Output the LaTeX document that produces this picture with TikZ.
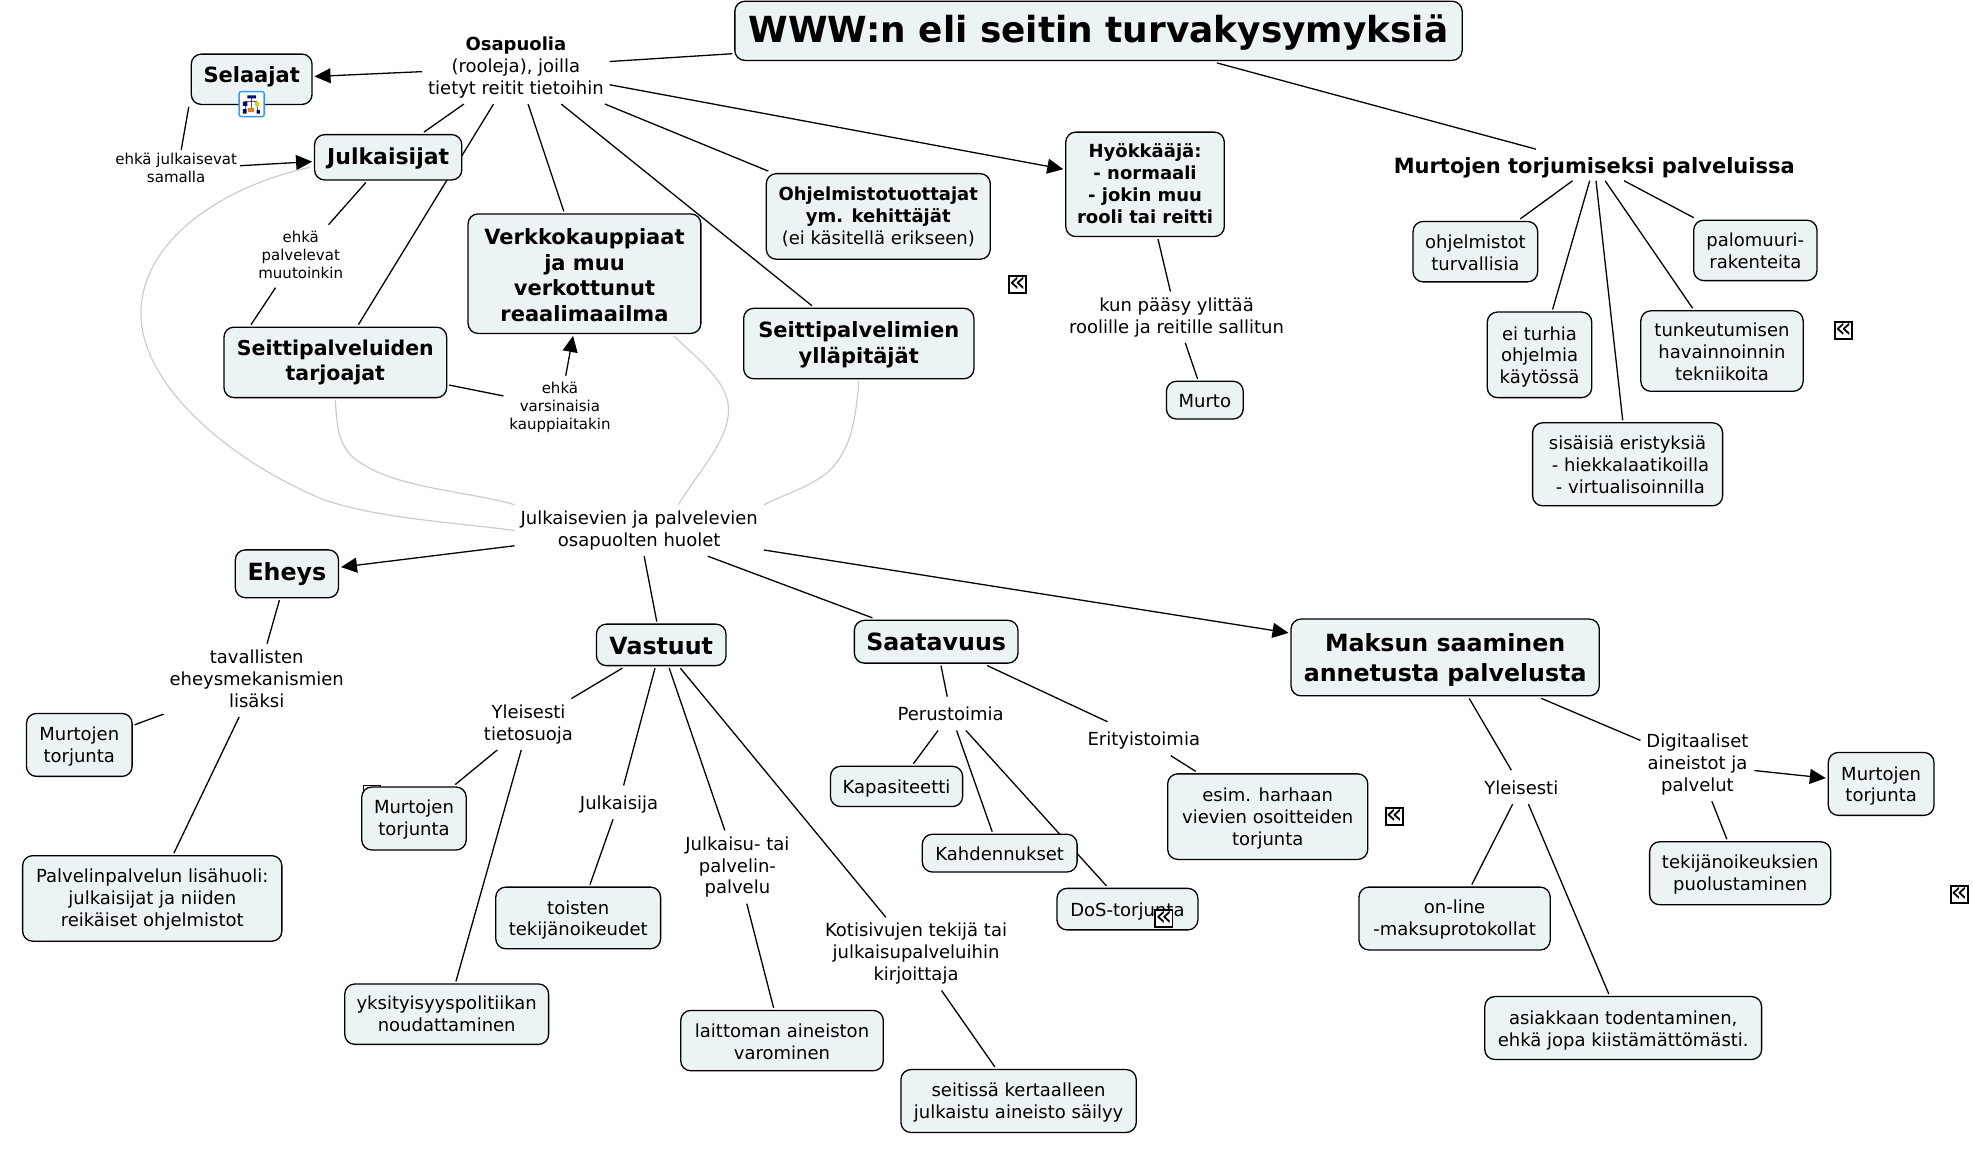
\documentclass[tikz,border=0pt]{standalone}
\usepackage{fontspec}
\setmainfont{DejaVu Sans}
\usetikzlibrary{arrows.meta, calc, backgrounds}
\definecolor{boxfill}{HTML}{ECF3F5}
\definecolor{curvegray}{HTML}{CCCCCC}
\newcommand{\fontstrut}{\rule[-.21em]{0pt}{1.215em}}
\newcommand{\topline}[1][1]{\rule{0pt}{#1em}}
\newcommand{\liftline}[1]{\rule[-#1pt]{0pt}{0pt}}
\tikzstyle{struts} = [execute at begin node=\fontstrut, execute at end node=\fontstrut]
\tikzstyle{block} = [rectangle, draw=black, fill=boxfill, line width=1.3pt, rounded corners=10pt, align=center, inner sep=0pt, outer sep=2.5pt, struts, font=\fontsize{18}{21.9}\selectfont]
\tikzstyle{head} = [font=\fontsize{21}{25.5}\selectfont\bfseries]
\tikzstyle{bighead} = [font=\fontsize{23.7}{30}\selectfont\bfseries]
\tikzstyle{note} = [align=center, inner sep=0pt, outer sep=6pt, yshift=-2pt, struts, font=\fontsize{18}{21.9}\selectfont]
\tikzstyle{smallnote} = [note, font=\fontsize{15}{18.2}\selectfont]
\tikzstyle{line} = [draw, line width=1.3pt]
\tikzstyle{arrow} = [line, -{Triangle[length=16pt,width=15pt]}]
\tikzstyle{curve} = [draw=curvegray, line width=1.2pt]
\tikzstyle{backicon} = [rectangle, draw=black, fill=white, line width=1.8pt, inner sep=0pt, minimum size=17pt, font=\fontsize{28}{28}\selectfont]
\tikzset{boxsize/.style 2 args={minimum width={#1*1.25829pt}, minimum height={#2*1.25829pt}}}
\begin{document}
\begin{tikzpicture}[x=1.25829pt, y=-1.25829pt]
	\useasboundingbox (0,0) rectangle (1568,918.7);

	% Top of the map
	\node(title) [block, boxsize={578}{47}, font=\fontsize{35.9}{44}\selectfont\bfseries] at (873,24.5) {WWW:n eli seitin turvakysymyksiä\liftline{12.5}};
	\node(osa) [note] at (410,52) {\textbf{Osapuolia}\\(rooleja), joilla\\tietyt reitit tietoihin};
	\node(sel) [block, head, boxsize={96}{40}] at (200,63) {Selaajat\liftline{14}};
	\node(ekaj) [smallnote, outer sep=3pt] at (140,133) {ehkä julkaisevat\\samalla};
	\node(julk) [block, head, boxsize={117}{36}, font=\fontsize{22}{25.5}\selectfont\bfseries] at (308.5,125) {Julkaisijat\liftline{7}};
	\node(ekap) [smallnote] at (239,202) {ehkä\\palvelevat\\muutoinkin};
	\node(tarj) [block, head, boxsize={177}{56}, font=\fontsize{20.5}{25.5}\selectfont\bfseries] at (266.5,288) {Seittipalveluiden\\tarjoajat};
	\node(verk) [block, head, boxsize={185}{95}] at (464.5,217.5) {\topline[1.12]Verkkokauppiaat\\ja muu\\verkottunut\\reaalimaailma};
	\node(ekav) [smallnote] at (445,322) {ehkä\\varsinaisia\\kauppiaitakin};
	\node(ohje) [block, boxsize={178}{68}] at (698,172) {\topline[.9]\textbf{Ohjelmistotuottajat}\\\textbf{ym. kehittäjät}\\(ei käsitellä erikseen)};
	\node(icon1) [backicon] at (808.5,226) {«};
	\node(yllp) [block, head, boxsize={183}{56}] at (682.5,273) {\topline[.9]Seittipalvelimien\\ylläpitäjät};
	\node(hyok) [block, boxsize={126}{83}, font=\fontsize{18}{21.9}\selectfont\bfseries] at (910,146.5) {\topline[.9]Hyökkääjä:\\- normaali\\- jokin muu\\rooli tai reitti};
	\node(kun) [note] at (935,250.5) {kun pääsy ylittää\\roolille ja reitille sallitun};
	\node(murto) [block, boxsize={61}{30}] at (957.5,318) {Murto};

	% Right group
	\node(torj) [note, head, outer sep=3pt] at (1267,129.5) {Murtojen torjumiseksi palveluissa};
	\node(ohjt) [block, boxsize={99}{48}] at (1172.5,200) {\topline[1.05]ohjelmistot\\turvallisia};
	\node(palo) [block, boxsize={98}{48}] at (1395,199) {\topline palomuuri-\\rakenteita};
	\node(turh) [block, boxsize={83}{68}] at (1223.5,282) {\topline ei turhia\\ohjelmia\\käytössä};
	\node(tunk) [block, boxsize={129}{64}] at (1368.5,279) {\topline tunkeutumisen\\havainnoinnin\\tekniikoita};
	\node(icon2) [backicon] at (1465,262.5) {«};
	\node(sisa) [block, boxsize={151}{66}] at (1293.5,369) {\topline sisäisiä eristyksiä\\\ - hiekkalaatikoilla\\\ - virtualisoinnilla};

	% Lower half
	\node(huol) [note] at (508,420) {Julkaisevien ja palvelevien\\osapuolten huolet};
	\node(ehey) [block, bighead, boxsize={82}{38}] at (228,456) {Eheys\liftline{10}};
	\node(tava) [note] at (204,539) {tavallisten\\eheysmekanismien\\lisäksi};
	\node(murt1) [block, boxsize={84}{50}] at (63,592) {\topline[.9]Murtojen\\torjunta};
	\node(pall) [block, boxsize={206}{68}] at (121,714) {\topline[.9]Palvelinpalvelun lisähuoli:\\julkaisijat ja niiden\\reikäiset ohjelmistot};
	\node(vast) [block, bighead, boxsize={103}{33}] at (525.5,512.5) {Vastuut};
	\node(ylei) [note] at (420,574) {Yleisesti\\tietosuoja};
	\node(icon3) [backicon] at (295.7,631) {};
	\node(murt2) [block, boxsize={83}{50}] at (329,650.5) {\topline[.9]Murtojen\\torjunta};
	\node(yksi) [block, boxsize={162}{48}] at (355,806) {\topline[.9]yksityisyyspolitiikan\\noudattaminen};
	\node(jija) [note] at (492,636) {Julkaisija};
	\node(tois) [block, boxsize={131}{49}] at (459.5,729.5) {\topline toisten\\tekijänoikeudet};
	\node(jpal) [note] at (586,687.5) {Julkaisu- tai\\palvelin-\\palvelu};
	\node(lait) [block, boxsize={161}{48}] at (621.5,827) {\topline[1.1]laittoman aineiston\\varominen};
	\node(koti) [note] at (728,756.5) {Kotisivujen tekijä tai\\julkaisupalveluihin\\kirjoittaja};
	\node(seit) [block, boxsize={187}{50}] at (809.5,875) {\topline[.9]seitissä kertaalleen\\julkaistu aineisto säilyy};
	\node(saat) [block, bighead, boxsize={130}{34}] at (744,510) {Saatavuus\liftline{6}};
	\node(peru) [note] at (755.5,565.5) {Perustoimia};
	\node(erit) [note] at (909,585.5) {Erityistoimia};
	\node(kapa) [block, boxsize={105}{32}] at (712.5,625) {Kapasiteetti};
	\node(kahd) [block, boxsize={123}{30}] at (794.5,678) {Kahdennukset};
	\node(dost) [block, boxsize={112}{33}] at (896,722.5) {DoS-torjunta};
	\node(icon4) [backicon] at (925,730) {«};
	\node(esim) [block, boxsize={159}{68}] at (1007.5,649) {\topline esim. harhaan\\vievien osoitteiden\\torjunta};
	\node(icon5) [backicon] at (1108,649) {«};
	\node(maks) [block, bighead, boxsize={245}{61}] at (1148.5,522.5) {\topline Maksun saaminen\\annetusta palvelusta};
	\node(yles) [note] at (1209,624) {Yleisesti};
	\node(onli) [block, boxsize={152}{50}] at (1156,730) {\topline[.9]on-line\\-maksuprotokollat};
	\node(asia) [block, boxsize={220}{50}] at (1290,817) {\topline asiakkaan todentaminen,\\ehkä jopa kiistämättömästi.};
	\node(digi) [note] at (1349,606) {Digitaaliset\\aineistot ja\\palvelut};
	\node(murt3) [block, boxsize={84}{50}] at (1495,623) {\topline Murtojen\\torjunta};
	\node(teki) [block, boxsize={144}{50}] at (1383,694) {\topline[.9]tekijänoikeuksien\\puolustaminen};
	\node(icon6) [backicon] at (1557,711) {«};

	% Small map icon on Selaajat
	\node(mapicon) [rectangle, draw=blue!50!cyan!80, fill=white, line width=1.4pt, rounded corners=2pt, minimum size=25pt, inner sep=0pt] at (200,82.7) {};
	\begin{scope}[shift={(mapicon.center)}]
		\draw[line width=0.5pt] (0,-5) -- (0,4) (-5,0) -- (-5,-2) -- (4,-2) -- (4,0) (-5,1) -- (-5,5) (4,1) -- (5,5);
		\fill[blue!50!black] (-3.4,-7) rectangle (3.4,-4.5) (-7,-2) rectangle (-3.4,1.5) (-7,4) rectangle (-4,7.5) (4,4.7) rectangle (6.6,7.5);
		\fill[yellow!70!olive] (2.6,-2) rectangle (6,1.5);
		\fill[orange!70!brown] (-2.6,3.4) rectangle (2,6);
	\end{scope}

	\begin{pgfonlayer}{background}
		% Draw edges
		\path [line] (osa) -- (title);
		\path [arrow] (osa) -- (sel);
		\path [line] (osa) -- (julk);
		\path [line] (osa) -- (tarj);
		\path [line] (osa) -- (verk);
		\path [line] (osa) -- (ohje);
		\path [line] (osa) -- (yllp);
		\path [arrow] (osa) -- (hyok);
		\path [line] (title) -- (torj);
		\path [line] (sel.south west) -- ($(ekaj.north)+(4,0)$);
		\path [arrow] (ekaj) -- (julk);
		\path [line] (julk) -- (ekap);
		\path [line] ($(ekap.south)+(-20,0)$) -- ($(tarj.north)+(-67,0)$);
		\path [line] (tarj) -- (ekav);
		\path [arrow] (ekav) -- (verk);
		\path [line] (hyok) -- (kun);
		\path [line] (kun) -- (murto);
		\path [line] (torj) -- (ohjt);
		\path [line] (torj) -- (palo);
		\path [line] (torj) -- (turh);
		\path [line] (torj) -- (tunk);
		\path [line] (torj) -- (sisa);
		\path [arrow] (huol) -- (ehey);
		\path [line] (huol) -- (vast);
		\path [line] (huol) -- (saat);
		\path [arrow] (huol) -- (maks);
		\path [line] (ehey) -- (tava);
		\path [line] (tava) -- (murt1);
		\path [line] (tava) -- (pall);
		\path [line] (vast) -- (ylei);
		\path [line] (vast) -- (jija);
		\path [line] (vast) -- (jpal);
		\path [line] (vast) -- (koti);
		\path [line] (ylei) -- (murt2);
		\path [line] (ylei) -- (yksi);
		\path [line] (jija) -- (tois);
		\path [line] (jpal) -- (lait);
		\path [line] (koti) -- (seit);
		\path [line] (saat) -- (peru);
		\path [line] (saat) -- (erit);
		\path [line] (peru) -- (kapa);
		\path [line] (peru) -- (kahd);
		\path [line] (peru) -- (dost);
		\path [line] (erit) -- (esim);
		\path [line] (maks) -- (yles);
		\path [line] (maks) -- (digi);
		\path [line] (yles) -- (onli);
		\path [line] (yles) -- (asia);
		\path [arrow] (digi) -- (murt3);
		\path [line] (digi) -- (teki);

		% Gray links
		\path [curve] ($(julk.west)+(-2,8)$) .. controls (170,150) and (112,195) .. (112,249) .. controls (112,305) and (180,365) .. (257,397) .. controls (300,412) and (360,415) .. (huol.west);
		\path [curve] (tarj.south) .. controls (268,345) and (270,360) .. (292,371) .. controls (320,388) and (380,392) .. (huol.north west);
		\path [curve] ($(verk.south)+(71,0)$) .. controls (560,290) and (579,305) .. (579,326) .. controls (579,350) and (555,375) .. ($(huol.north)+(31,0)$);
		\path [curve] (yllp.south) .. controls (680,335) and (676,355) .. (662,371) .. controls (650,385) and (625,392) .. (huol.north east);
	\end{pgfonlayer}
\end{tikzpicture}
\end{document}
